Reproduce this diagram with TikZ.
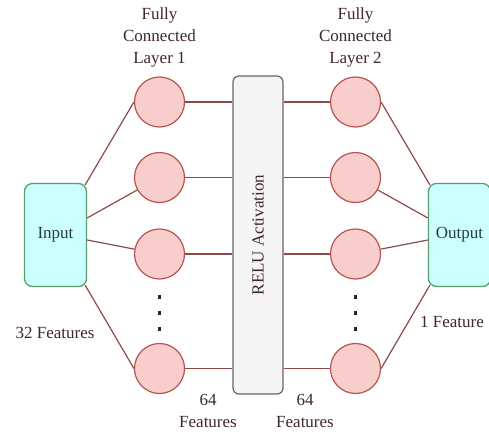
\documentclass[tikz,border=0pt]{standalone}
\usepackage{fontspec}
\setmainfont{Liberation Serif}
\begin{document}
\begin{tikzpicture}[x=1pt,y=-1pt,
  neuron/.style={circle,draw=circstroke,fill=circfill,line width=1.2pt,minimum size=50pt,inner sep=0pt},
  iobox/.style={draw=iostroke,fill=iofill,rounded corners=8pt,line width=1.3pt,minimum width=62pt,minimum height=103pt,inner sep=0pt,font=\fontsize{17}{20}\selectfont,text=iotext},
  relubox/.style={draw=relustroke,fill=relufill,rounded corners=6pt,line width=1.2pt,minimum width=50pt,minimum height=318pt,inner sep=0pt},
  conn/.style={draw=linecol,line width=1.2pt},
  lbl/.style={align=center,font=\fontsize{17}{22}\selectfont,text=lbltext,inner sep=0pt},
  vdot/.style={fill=black!85,minimum size=3.5pt,inner sep=0pt}]
\definecolor{circfill}{HTML}{F8CECC}
\definecolor{circstroke}{HTML}{B85450}
\definecolor{iofill}{HTML}{CCFFFF}
\definecolor{iostroke}{HTML}{5A9E6A}
\definecolor{iotext}{HTML}{263C3C}
\definecolor{relufill}{HTML}{F5F5F5}
\definecolor{relustroke}{HTML}{666666}
\definecolor{linecol}{HTML}{8E4A4A}
\definecolor{lbltext}{HTML}{3E2828}
\useasboundingbox (0,0) rectangle (489,434);
\fill[white] (0,0) rectangle (489,434);

% boxes
\node[iobox] (in) at (55.5,235) {Input};
\node[iobox] (out) at (459.5,235) {Output};
\node[relubox] (relu) at (258,235) {};
\node[rotate=90,font=\fontsize{17}{20}\selectfont,text=lbltext] (relutxt) at (258,235) {RELU Activation};

% layer 1
\node[neuron] (a1) at (159.5,102) {};
\node[neuron] (a2) at (159.5,177.5) {};
\node[neuron] (a3) at (159.5,254) {};
\node[neuron] (a4) at (159.5,368.5) {};
% layer 2
\node[neuron] (b1) at (355.5,102) {};
\node[neuron] (b2) at (355.5,177.5) {};
\node[neuron] (b3) at (355.5,254) {};
\node[neuron] (b4) at (355.5,368.5) {};

% dots
\node[vdot] (d1) at (159.5,297) {};
\node[vdot] (d2) at (159.5,313) {};
\node[vdot] (d3) at (159.5,329) {};
\node[vdot] (e1) at (355.5,297) {};
\node[vdot] (e2) at (355.5,313) {};
\node[vdot] (e3) at (355.5,329) {};

% input connections
\draw[conn] ([yshift=-2pt,xshift=-2pt]in.north east) -- (a1.west);
\draw[conn] ([yshift=17pt]in.east) -- (a2);
\draw[conn] ([yshift=-5pt]in.east) -- (a3);
\draw[conn] ([yshift=2pt,xshift=-2pt]in.south east) -- (a4.west);
% output connections
\draw[conn] (b1.east) -- ([yshift=-2pt,xshift=2pt]out.north west);
\draw[conn] (b2) -- ([yshift=17pt]out.west);
\draw[conn] (b3) -- ([yshift=-5pt]out.west);
\draw[conn] (b4.east) -- ([yshift=2pt,xshift=2pt]out.south west);
% relu connections
\foreach \i in {1,2,3,4}{
  \draw[conn] (a\i.east) -- (a\i.east -| relu.west);
  \draw[conn] (relu.east |- b\i.west) -- (b\i.west);
}

% labels
\node[lbl] (l1) at (159.5,37) {Fully\\Connected\\Layer 1};
\node[lbl] (l2) at (355.5,37) {Fully\\Connected\\Layer 2};
\node[lbl] (f32) at (55,333) {32 Features};
\node[lbl] (f1) at (452,322) {1 Feature};
\node[lbl] (f64a) at (208,411) {64\\Features};
\node[lbl] (f64b) at (305,411) {64\\Features};
\end{tikzpicture}
\end{document}
